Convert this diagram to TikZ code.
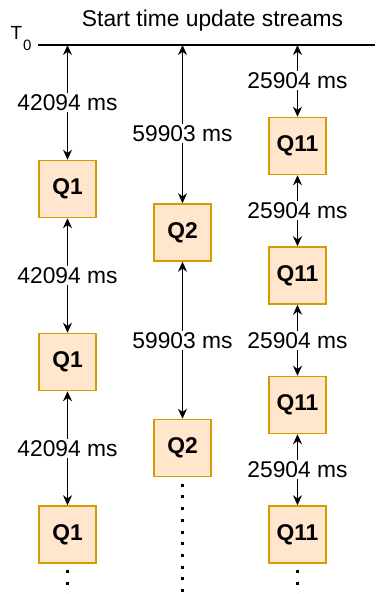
\documentclass[tikz,border=0pt]{standalone}
\usepackage{fontspec}
\setmainfont{Liberation Sans}
\usetikzlibrary{arrows.meta}
\definecolor{qfill}{HTML}{FFE6CC}
\definecolor{qline}{HTML}{D79B00}
\tikzset{
	qbox/.style={draw=qline, fill=qfill, line width=1.5pt, minimum size=57pt, inner sep=0pt, font=\bfseries\fontsize{22.8}{27}\selectfont},
	gap/.style={line width=1.3pt, {Stealth[length=10pt,width=9pt]}-{Stealth[length=10pt,width=9pt]}},
	lbl/.style={fill=white, inner sep=1.5pt, font=\fontsize{22.8}{27}\selectfont},
	dots/.style={line width=3pt, dash pattern=on 3pt off 8.7pt}
}

\begin{document}
\begin{tikzpicture}[x=1pt, y=-1pt]
		%%%%% START %%%%%
		\useasboundingbox (0, 0) rectangle (375, 594);
		
		\node[anchor=base, font=\fontsize{22.8}{27}\selectfont] (title) at (212.5, 27) {Start time update streams};
		\node[anchor=base west, inner sep=0pt, font=\fontsize{19}{22}\selectfont] (tzero) at (10.5, 39.5) {T\kern0.8pt\raisebox{-11.5pt}{\fontsize{15}{17}\selectfont 0}};
		\coordinate (l0) at (38, 45);
		\coordinate (l1) at (375, 45);
		\draw[line width=1.3pt] (l0) -- (l1);
		
		\coordinate (t1) at (67.5, 45);
		\coordinate (t2) at (182.5, 45);
		\coordinate (t3) at (297.5, 45);
		
		\node[qbox] (q1a) at (67.5, 189) {Q1};
		\node[qbox] (q1b) at (67.5, 362) {Q1};
		\node[qbox] (q1c) at (67.5, 534.5) {Q1};
		
		\node[qbox] (q2a) at (182.5, 232.5) {Q2};
		\node[qbox] (q2b) at (182.5, 448) {Q2};
		
		\node[qbox] (q11a) at (297.5, 146) {Q11};
		\node[qbox] (q11b) at (297.5, 275.5) {Q11};
		\node[qbox] (q11c) at (297.5, 405) {Q11};
		\node[qbox] (q11d) at (297.5, 534.5) {Q11};
		
		\draw[gap] (t1) -- (q1a.north) node[lbl, midway] {42094 ms};
		\draw[gap] (q1a.south) -- (q1b.north) node[lbl, midway] {42094 ms};
		\draw[gap] (q1b.south) -- (q1c.north) node[lbl, midway] {42094 ms};
		
		\draw[gap] (t2) -- (q2a.north) node[lbl, pos=0.56] {59903 ms};
		\draw[gap] (q2a.south) -- (q2b.north) node[lbl, midway] {59903 ms};
		
		\draw[gap] (t3) -- (q11a.north) node[lbl, midway] {25904 ms};
		\draw[gap] (q11a.south) -- (q11b.north) node[lbl, midway] {25904 ms};
		\draw[gap] (q11b.south) -- (q11c.north) node[lbl, midway] {25904 ms};
		\draw[gap] (q11c.south) -- (q11d.north) node[lbl, midway] {25904 ms};
		
		\coordinate (e1) at (67.5, 594);
		\coordinate (e2) at (182.5, 594);
		\coordinate (e3) at (297.5, 594);
		\draw[dots] ([yshift=-6.5pt]q1c.south) -- (e1);
		\draw[dots] ([yshift=-6.5pt]q2b.south) -- (e2);
		\draw[dots] ([yshift=-6.5pt]q11d.south) -- (e3);
		%%%%% END %%%%%
	\end{tikzpicture}
\end{document}
